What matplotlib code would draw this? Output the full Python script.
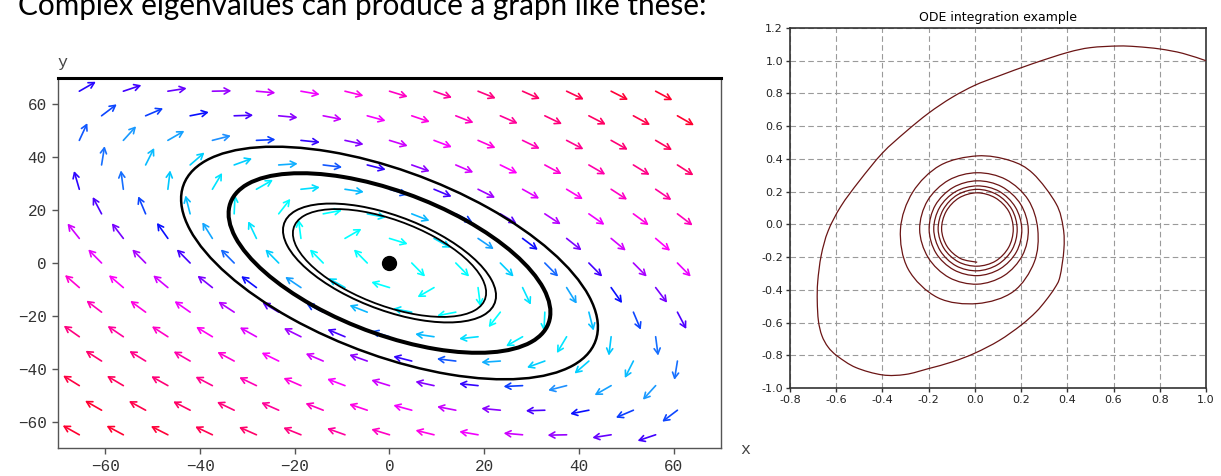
import numpy as np
import matplotlib.pyplot as plt
from matplotlib.patches import Ellipse, PathPatch
from matplotlib.path import Path
from matplotlib.colors import LinearSegmentedColormap, Normalize

W, H = 1221, 476

heading = "Complex eigenvalues can produce a graph like these:"

# ---- left panel: phase portrait of x' = A x (complex eigenvalues, centre)
field_matrix = np.array([[0.55, 1.0], [-1.0, -0.55]])
row_y = [65.0, 55.7, 46.4, 37.1, 27.9, 18.6, 9.3, 0.0,
         -9.3, -18.6, -27.9, -37.1, -46.4, -55.7, -65.0]
cols_a = [-65.5, -56.2, -46.8, -37.4, -28.1, -18.7, -9.4, 0.0,
          9.4, 18.7, 28.1, 37.4, 46.8, 56.2]
cols_b = [-60.8, -51.5, -42.1, -32.8, -23.4, -14.0, -4.7, 4.7,
          14.0, 23.4, 32.8, 42.1, 51.5, 60.8]
orbit_major = [54.8, 42.3, 28.0, 25.4]
orbit_minor = [29.5, 22.8, 15.1, 13.7]
orbit_lw = [1.8, 2.9, 1.4, 1.3]
phase_ticks = [-60, -40, -20, 0, 20, 40, 60]
# arrow colour follows the weighted speed of the flow
colour_weight = (1.0, 0.7)
speed_stops = [12, 22, 27, 33, 37, 41, 45, 50, 58, 80, 110]
speed_colors = ['#00ffff', '#00c8ff', '#1e90ff', '#0010ff', '#4000ff', '#7000ff',
                '#a000ff', '#d000ff', '#ff00ff', '#ff0090', '#ff0030']

# ---- right panel: ODE trajectory
ode_title = "ODE integration example"
# first turn, read point by point
outer_x = [1.000, 0.900, 0.800, 0.700, 0.620, 0.500, 0.400, 0.250, 0.100, 0.000,
           -0.100, -0.200, -0.300, -0.400, -0.500, -0.580, -0.635, -0.665, -0.680, -0.682,
           -0.677, -0.662, -0.635, -0.595, -0.515, -0.400, -0.300, -0.202, -0.097, 0.000,
           0.105, 0.199, 0.264, 0.307, 0.345, 0.368, 0.385, 0.382, 0.351, 0.252,
           0.152]
outer_y = [1.000, 1.045, 1.072, 1.086, 1.090, 1.080, 1.050, 0.982, 0.905, 0.850,
           0.775, 0.680, 0.565, 0.436, 0.265, 0.110, -0.040, -0.190, -0.350, -0.470,
           -0.590, -0.680, -0.750, -0.805, -0.875, -0.920, -0.917, -0.882, -0.840, -0.787,
           -0.710, -0.617, -0.536, -0.465, -0.390, -0.320, -0.155, -0.020, 0.127, 0.310,
           0.390]
# later turns read in polar form around the centre (30 degree steps from 90)
inner_centre = (0.01, -0.03)
inner_r = [0.318, 0.320, 0.322, 0.332, 0.345, 0.342, 0.322, 0.312, 0.285,
           0.262, 0.255, 0.249, 0.245, 0.246, 0.248, 0.249, 0.245, 0.242, 0.238, 0.232, 0.226,
           0.221, 0.217, 0.213, 0.210, 0.209, 0.209, 0.208, 0.206, 0.203, 0.201, 0.198, 0.196,
           0.193, 0.191, 0.190, 0.188, 0.188, 0.188, 0.188, 0.185, 0.183, 0.180, 0.177, 0.175,
           0.173, 0.173, 0.173, 0.173, 0.172, 0.170, 0.169, 0.166, 0.163, 0.160, 0.159, 0.157,
           0.156, 0.157, 0.157, 0.158, 0.157, 0.155, 0.154, 0.150, 0.146, 0.143]
y_stretch = 1.41
ode_xticks = [-0.8, -0.6, -0.4, -0.2, 0.0, 0.2, 0.4, 0.6, 0.8, 1.0]
ode_yticks = [-1.0, -0.8, -0.6, -0.4, -0.2, 0.0, 0.2, 0.4, 0.6, 0.8, 1.0, 1.2]

fig = plt.figure(figsize=(W / 100, H / 100), dpi=100)

fig.text(18 / W, 1 - 15 / H, heading, fontsize=21.4, family='Lato',
         va='baseline', ha='left', color='black')

# ---------------- left panel
ax = fig.add_axes([58 / W, 1 - 448 / H, 663 / W, 370 / H])
ax.set_xlim(-70, 70)
ax.set_ylim(-70, 70)

sx = 663 / 140.0
sy = 370 / 140.0
arrow_px = 19.0
pos = [(s - speed_stops[0]) / (speed_stops[-1] - speed_stops[0]) for s in speed_stops]
cmap = LinearSegmentedColormap.from_list('speed', list(zip(pos, speed_colors)))
norm = Normalize(speed_stops[0], speed_stops[-1], clip=True)

for i, y in enumerate(row_y):
    cols = cols_a if i % 2 == 0 else cols_b
    for x in cols:
        u, v = field_matrix @ np.array([x, y])
        speed = np.hypot(u * colour_weight[0], v * colour_weight[1])
        su, sv = u * sx, v * sy
        n = np.hypot(su, sv)
        dx = su / n * arrow_px / sx
        dy = sv / n * arrow_px / sy
        ax.annotate('', xy=(x + dx, y + dy), xytext=(x, y),
                    arrowprops=dict(arrowstyle='->,head_length=0.4,head_width=0.22',
                                    color=cmap(norm(speed)), lw=1.2,
                                    shrinkA=0, shrinkB=0),
                    zorder=2)

for a, b, lw in zip(orbit_major, orbit_minor, orbit_lw):
    ax.add_patch(Ellipse((0, 0), 2 * a, 2 * b, angle=-45, fill=False,
                         ec='black', lw=lw, zorder=3))
ax.plot([0], [0], 'o', color='black', ms=10, zorder=4)

ax.set_xticks(phase_ticks)
ax.set_yticks(phase_ticks)
for side in ['left', 'bottom', 'right']:
    ax.spines[side].set_color('#555555')
    ax.spines[side].set_linewidth(1.0)
ax.spines['top'].set_color('black')
ax.spines['top'].set_linewidth(2.2)
ax.tick_params(direction='out', length=4, width=1, color='#555555',
               labelsize=11.5, labelcolor='#333333', pad=4)
for lab in ax.get_xticklabels() + ax.get_yticklabels():
    lab.set_family('Liberation Mono')

fig.text(62 / W, 1 - 62 / H, 'y', fontsize=12, family='Liberation Mono',
         color='#444444', ha='center', va='center')
fig.text(745 / W, 1 - 450 / H, 'x', fontsize=12, family='Liberation Mono',
         color='#444444', ha='center', va='center')

# ---------------- right panel
ax2 = fig.add_axes([790 / W, 1 - 388 / H, 416 / W, 360 / H])
th = np.deg2rad(np.arange(90, 2071, 30))
inner_x = inner_centre[0] + np.array(inner_r) * np.cos(th)
inner_y = inner_centre[1] + np.array(inner_r) * y_stretch * np.sin(th)
pts = np.column_stack([np.concatenate([outer_x, inner_x]),
                       np.concatenate([outer_y, inner_y])])

# smooth curve through the read points (Catmull-Rom as cubic Bezier)
verts = [pts[0]]
codes = [Path.MOVETO]
last = len(pts) - 1
for i in range(last):
    p0 = pts[max(i - 1, 0)]
    p1 = pts[i]
    p2 = pts[i + 1]
    p3 = pts[min(i + 2, last)]
    verts += [p1 + (p2 - p0) / 6.0, p2 - (p3 - p1) / 6.0, p2]
    codes += [Path.CURVE4] * 3
ax2.add_patch(PathPatch(Path(verts, codes), fill=False, ec='#6b1515',
                        lw=0.9, zorder=3))

ax2.set_xlim(-0.8, 1.0)
ax2.set_ylim(-1.0, 1.2)
ax2.set_xticks(ode_xticks)
ax2.set_yticks(ode_yticks)
ax2.xaxis.set_major_formatter(plt.FormatStrFormatter('%.1f'))
ax2.yaxis.set_major_formatter(plt.FormatStrFormatter('%.1f'))
ax2.set_axisbelow(True)
ax2.grid(True, linestyle=(0, (5, 3)), color='#9a9a9a', lw=0.8)
for side in ax2.spines:
    ax2.spines[side].set_color('#333333')
    ax2.spines[side].set_linewidth(1.2)
ax2.tick_params(direction='out', length=3, width=1, color='#333333',
                labelsize=8, labelcolor='#222222', pad=2)
ax2.set_title(ode_title, fontsize=9, pad=5)

fig.savefig('out.png', dpi=100)
